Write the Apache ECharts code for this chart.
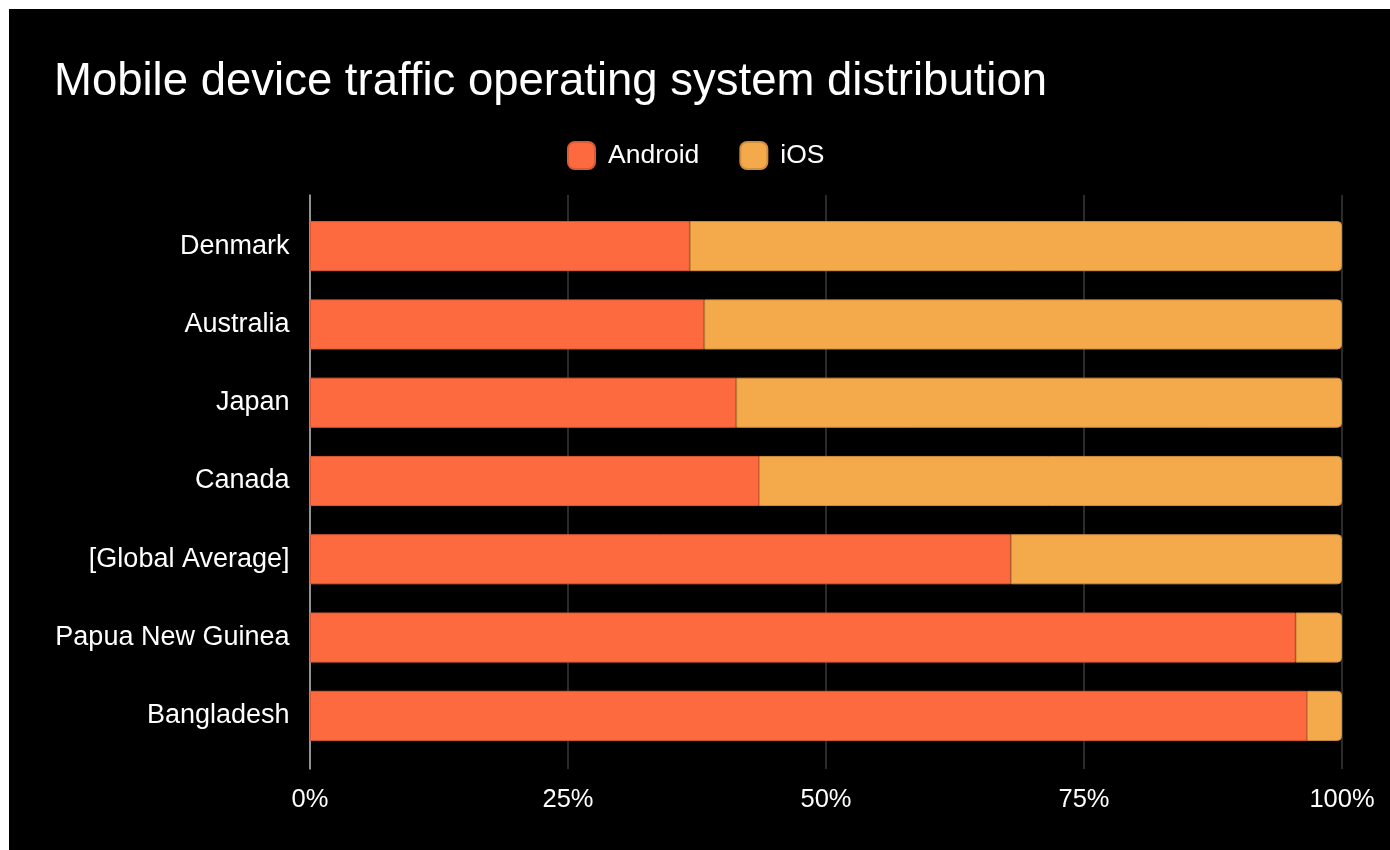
<!DOCTYPE html>
<html>
<head>
<meta charset="utf-8">
<script src="https://cdn.jsdelivr.net/npm/echarts@6/dist/echarts.min.js"></script>
<style>
  html, body { margin: 0; padding: 0; background: #fff; }
  #chart { position: absolute; left: 9px; top: 9px; width: 1381px; height: 841px; background: #000; }
</style>
</head>
<body>
<div id="chart"></div>
<script>
// datos (porcentaje de trafico)
const paises = ['Denmark ', 'Australia ', 'Japan ', 'Canada ', '[Global Average] ', 'Papua New Guinea ', 'Bangladesh '];
const android = [36.8, 38.2, 41.3, 43.5, 67.9, 95.5, 96.6];
const ios = [63.2, 61.8, 58.7, 56.5, 32.1, 4.5, 3.4];
const ticksX = [0, 25, 50, 75, 100];

const fuente = '"Liberation Sans", Arial, Helvetica, sans-serif';

const chart = echarts.init(document.getElementById('chart'));

chart.setOption({
  backgroundColor: '#000',
  animation: false,
  title: {
    text: 'Mobile device traffic operating system distribution',
    left: 40,
    top: 45,
    textStyle: { color: '#fff', fontSize: 45.5, fontWeight: 'normal', fontFamily: fuente }
  },
  legend: {
    data: ['Android', 'iOS'],
    left: 553,
    top: 127,
    icon: 'roundRect',
    itemWidth: 27,
    itemHeight: 27,
    itemGap: 40,
    textStyle: { color: '#fff', fontSize: 26.5, fontFamily: fuente, padding: [0, 0, 0, 8] }
  },
  grid: [
    // grid de las barras
    { left: 301, right: 48, top: 198, bottom: 95 },
    // grid solo para las lineas verticales
    { left: 301, right: 48, top: 186, bottom: 81 }
  ],
  xAxis: [
    { type: 'value', gridIndex: 0, min: 0, max: 100, show: false },
    {
      type: 'value', gridIndex: 1, min: ticksX[0], max: ticksX[ticksX.length - 1], interval: 25,
      axisLine: { show: false },
      axisTick: { show: false },
      axisLabel: { color: '#fff', fontSize: 25.5, fontFamily: fuente, margin: 18, formatter: '{value}%' },
      splitLine: { show: true, lineStyle: { color: '#3a3a3a', width: 1.5 } }
    }
  ],
  yAxis: [
    {
      type: 'category', gridIndex: 0, data: paises, inverse: true,
      axisLine: { show: false },
      axisTick: { show: false },
      axisLabel: { color: '#fff', fontSize: 27, fontFamily: fuente, margin: 13 }
    },
    {
      type: 'value', gridIndex: 1,
      axisLine: { show: true, lineStyle: { color: '#b5b5b5', width: 1.5 } },
      axisTick: { show: false },
      axisLabel: { show: false },
      splitLine: { show: false }
    }
  ],
  series: [
    {
      name: 'Android', type: 'bar', stack: 'os', xAxisIndex: 0, yAxisIndex: 0,
      barWidth: '64%',
      data: android,
      itemStyle: { color: '#fe6a3f', borderColor: '#d95a36', borderWidth: 1 }
    },
    {
      name: 'iOS', type: 'bar', stack: 'os', xAxisIndex: 0, yAxisIndex: 0,
      barWidth: '64%',
      data: ios,
      itemStyle: { color: '#f4a94a', borderColor: '#cf8f3e', borderWidth: 1, borderRadius: [0, 4, 4, 0] }
    }
  ]
});
</script>
</body>
</html>
